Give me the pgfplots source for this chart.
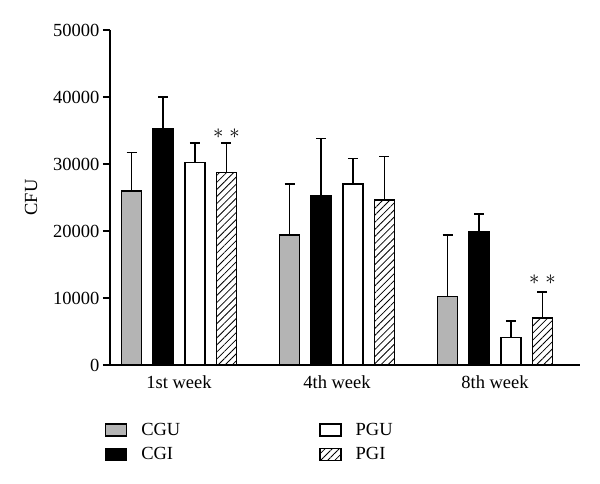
\documentclass[border=0pt]{standalone}
\usepackage{fontspec}
\setmainfont{Liberation Serif}
\usepackage{pgfplots}
\pgfplotsset{compat=1.18}
\usetikzlibrary{patterns.meta}
\pgfplotsset{mybox legend/.style={legend image code/.code={\draw[##1,line width=1.3pt] (0pt,-6pt) rectangle (21pt,6pt);}},
  eb/.style={error bars/.cd, y dir=plus, y explicit, error mark=|,
    error bar style={line width=1.5pt, black},
    error mark options={black, line width=1.5pt, mark size=5pt}}}
\definecolor{cgu}{RGB}{180,180,180}

\pgfplotstableread{
x y e
0 26000 5700
1 19400 7600
2 10200 9200
}\tcgu
\pgfplotstableread{
x y e
0 35200 4800
1 25300 8500
2 19900 2600
}\tcgi
\pgfplotstableread{
x y e
0 30200 2900
1 27000 3800
2 4100 2500
}\tpgu
\pgfplotstableread{
x y e
0 28700 4400
1 24600 6500
2 7000 3900
}\tpgi

\begin{document}
\begin{tikzpicture}[font=\fontsize{18.5}{22}\selectfont]
\useasboundingbox (-110pt,-119pt) rectangle (490pt,365pt);
\begin{axis}[
  at={(0pt,0pt)}, anchor=south west,
  scale only axis, width=470pt, height=335pt,
  xmin=-0.437, xmax=2.538, ymin=0, ymax=50000,
  ybar, bar width=20pt,
  axis lines=left, axis line style={-, line width=1.6pt},
  ytick={0,10000,20000,30000,40000,50000},
  xtick={0,1,2}, xticklabels={1st week,4th week,8th week},
  tick align=outside, major tick length=7pt,
  xtick style={draw=none}, ytick style={line width=1.6pt, black},
  yticklabel style={/pgf/number format/1000 sep={}, /pgf/number format/assume math mode=true},
  scaled y ticks=false,
  ylabel={CFU}, ylabel style={at={(axis description cs:-0.168,0.5)}, anchor=center},
  legend columns=2,
  legend cell align=left,
  legend style={draw=none, fill=none, at={(axis description cs:0,0)}, anchor=north west,
    xshift=-5pt, yshift=-58pt, inner sep=0pt, outer sep=0pt, row sep=11pt,
    /tikz/every odd column/.append style={column sep=14pt},
    /tikz/every even column/.append style={column sep=139pt},
    nodes={inner sep=0pt, anchor=west}},
]
\addplot[bar shift=-47.4pt, fill=cgu, draw=black, line width=1.5pt, forget plot, eb] table[x=x,y=y,y error=e]{\tcgu};
\addplot[bar shift=-15.8pt, fill=black, draw=black, line width=1.5pt, forget plot, eb] table[x=x,y=y,y error=e]{\tcgi};
\addplot[bar shift=15.8pt, fill=white, draw=black, line width=1.5pt, forget plot, eb] table[x=x,y=y,y error=e]{\tpgu};
\addplot[bar shift=47.4pt, fill=white, draw=black, line width=1.5pt, forget plot, postaction={pattern={Lines[angle=45,distance=5pt,line width=0.8pt]}}, eb] table[x=x,y=y,y error=e]{\tpgi};

\addlegendimage{mybox legend, fill=cgu, draw=black}
\addlegendentry{CGU}
\addlegendimage{mybox legend, fill=white, draw=black}
\addlegendentry{PGU}
\addlegendimage{mybox legend, fill=black, draw=black}
\addlegendentry{CGI}
\addlegendimage{mybox legend, fill=white, draw=black, postaction={pattern={Lines[angle=45,distance=5pt,line width=0.8pt]}}}
\addlegendentry{PGI}

\node[font=\fontsize{21}{24}\selectfont] at (axis cs:0,34600) [xshift=47.4pt] {$\ast\;\ast$};
\node[font=\fontsize{21}{24}\selectfont] at (axis cs:2,12700) [xshift=47.4pt] {$\ast\;\ast$};
\end{axis}
\end{tikzpicture}
\end{document}
